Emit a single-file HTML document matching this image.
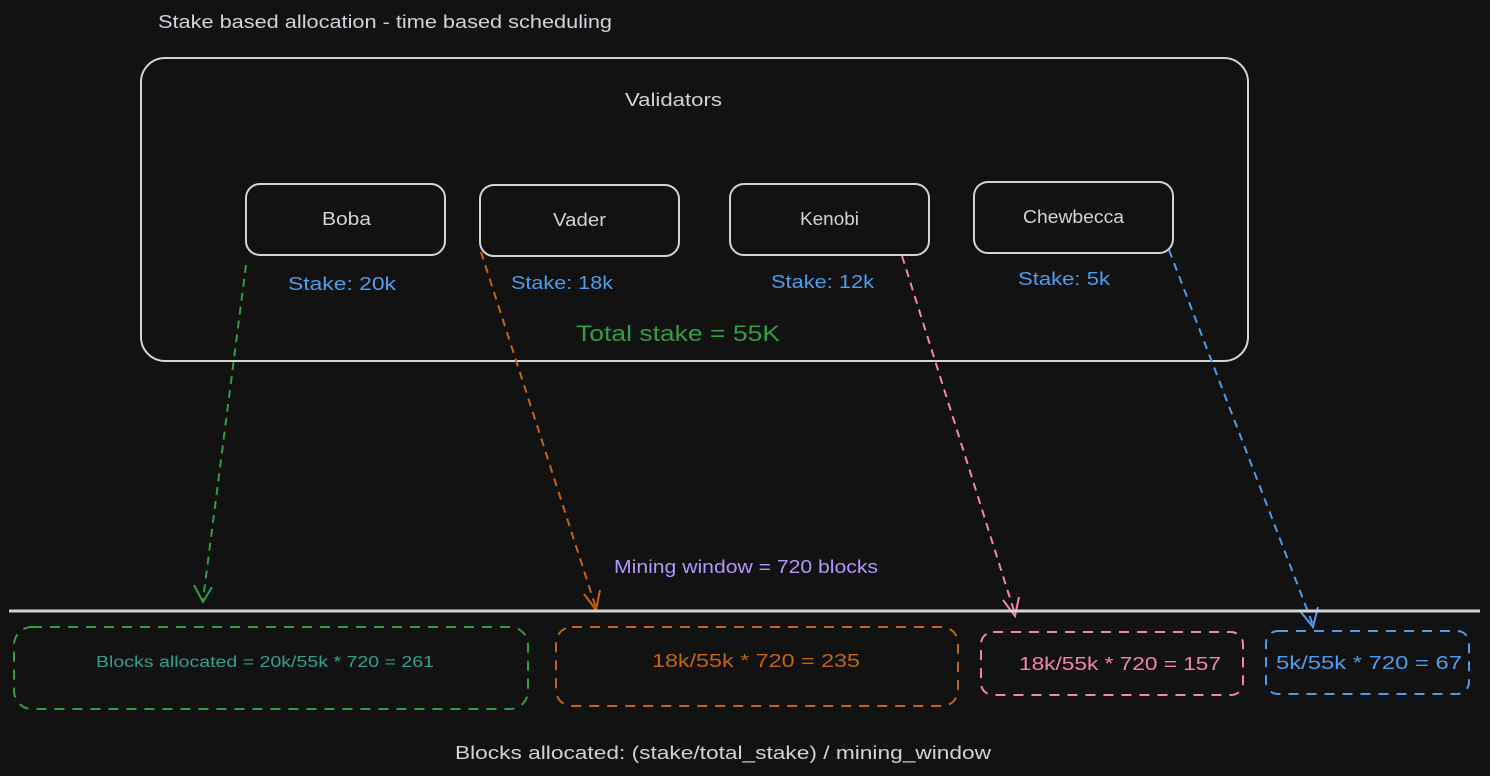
<!DOCTYPE html>
<html><head><meta charset="utf-8"><style>
html,body{margin:0;padding:0;background:#121212;}
svg{display:block}
text{font-family:"Liberation Sans",sans-serif;}
</style></head><body>
<svg width="1490" height="776" viewBox="0 0 1490 776" xmlns="http://www.w3.org/2000/svg">
<rect width="1490" height="776" fill="#121212"/>
<text x="158" y="28" fill="#ced4da" font-size="18" textLength="454" lengthAdjust="spacingAndGlyphs">Stake based allocation - time based scheduling</text>
<rect x="141" y="58" width="1107" height="303" rx="24" fill="none" stroke="#d4d4d4" stroke-width="2"/>
<text x="625" y="106" fill="#ced4da" font-size="18" textLength="97" lengthAdjust="spacingAndGlyphs">Validators</text>
<g fill="none" stroke="#d4d4d4" stroke-width="2">
<rect x="246" y="184" width="199" height="71" rx="14"/>
<rect x="480" y="185" width="199" height="71" rx="14"/>
<rect x="730" y="184" width="199" height="71" rx="14"/>
<rect x="974" y="182" width="199" height="71" rx="14"/>
</g>
<g fill="#ced4da" font-size="18" lengthAdjust="spacingAndGlyphs">
<text x="322" y="225" textLength="49" lengthAdjust="spacingAndGlyphs">Boba</text>
<text x="553" y="226" textLength="53" lengthAdjust="spacingAndGlyphs">Vader</text>
<text x="800" y="225" textLength="59" lengthAdjust="spacingAndGlyphs">Kenobi</text>
<text x="1023" y="223" textLength="101" lengthAdjust="spacingAndGlyphs">Chewbecca</text>
</g>
<g fill="#4a9eed" font-size="18">
<text x="288" y="290" textLength="108" lengthAdjust="spacingAndGlyphs">Stake: 20k</text>
<text x="511" y="289" textLength="102" lengthAdjust="spacingAndGlyphs">Stake: 18k</text>
<text x="771" y="288" textLength="103" lengthAdjust="spacingAndGlyphs">Stake: 12k</text>
<text x="1018" y="285" textLength="92" lengthAdjust="spacingAndGlyphs">Stake: 5k</text>
</g>
<text x="576" y="341" fill="#2f9e44" font-size="22" textLength="204" lengthAdjust="spacingAndGlyphs">Total stake = 55K</text>
<g fill="none" stroke-width="2" stroke-dasharray="8 6">
<path d="M246 265 L203 600" stroke="#2f9e44"/>
<path d="M481 252 L596 608" stroke="#c4660a"/>
<path d="M902 256 L1015 614" stroke="#f783ac"/>
<path d="M1169 250 L1313 625" stroke="#4a9eed"/>
</g>
<g fill="none" stroke-width="2">
<path d="M194 585 L203 602 L212 587" stroke="#2f9e44"/>
<path d="M584 594 L596 610 L600 590" stroke="#c4660a"/>
<path d="M1003 600 L1015 616 L1019 597" stroke="#f783ac"/>
<path d="M1300 611 L1313 627 L1318 607" stroke="#4a9eed"/>
</g>
<text x="614" y="573" fill="#b197fc" font-size="18" textLength="264" lengthAdjust="spacingAndGlyphs">Mining window = 720 blocks</text>
<line x1="9" y1="611" x2="1480" y2="611" stroke="#d4d4d4" stroke-width="3"/>
<g fill="none" stroke-width="2" stroke-dasharray="10 8">
<rect x="14" y="627" width="514" height="82" rx="18" stroke="#2f9e44"/>
<rect x="556" y="627" width="402" height="79" rx="16" stroke="#c4660a"/>
<rect x="981" y="632" width="262" height="63" rx="12" stroke="#f783ac"/>
<rect x="1266" y="631" width="203" height="63" rx="12" stroke="#4a9eed"/>
</g>
<text x="96" y="667" fill="#2ea38a" font-size="16" textLength="338" lengthAdjust="spacingAndGlyphs">Blocks allocated = 20k/55k * 720 = 261</text>
<text x="652" y="667" fill="#c4660a" font-size="18" textLength="208" lengthAdjust="spacingAndGlyphs">18k/55k * 720 = 235</text>
<text x="1019" y="670" fill="#f783ac" font-size="18" textLength="202" lengthAdjust="spacingAndGlyphs">18k/55k * 720 = 157</text>
<text x="1276" y="669" fill="#4a9eed" font-size="18" textLength="186" lengthAdjust="spacingAndGlyphs">5k/55k * 720 = 67</text>
<text x="455" y="759" fill="#ced4da" font-size="18" textLength="536" lengthAdjust="spacingAndGlyphs">Blocks allocated: (stake/total_stake) / mining_window</text>
</svg>
</body></html>
